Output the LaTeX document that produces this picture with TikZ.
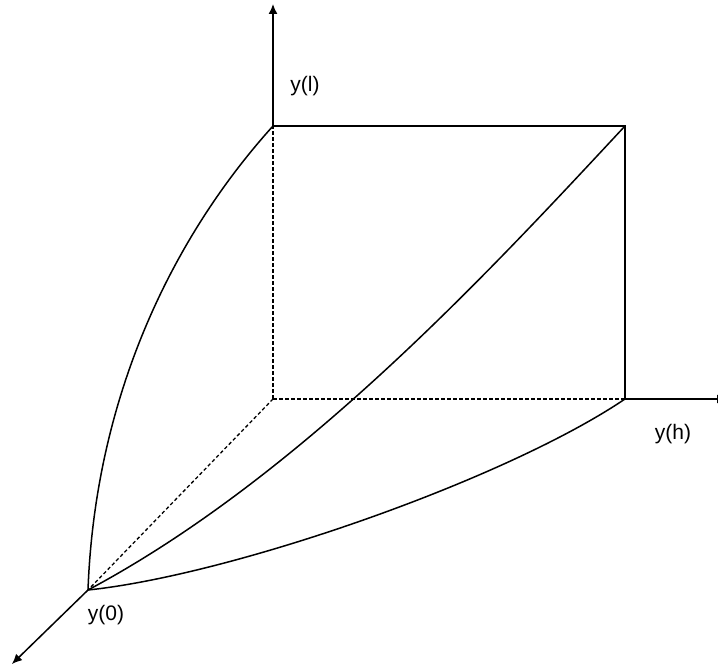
\documentclass[tikz,border=0pt]{standalone}
\usepackage{fontspec}
\setmainfont{Liberation Sans}
\usetikzlibrary{arrows.meta}

\tikzset{
  axis/.style={line width=1.5pt, -{Latex[length=10pt,width=9pt]}},
  hidden/.style={line width=1.3pt, dash pattern=on 3.5pt off 2.5pt},
  edge/.style={line width=1.5pt},
  lbl/.style={inner sep=0.75pt, font=\fontsize{21}{25}\selectfont},
}

\begin{document}
\begin{tikzpicture}[x=1pt,y=1pt,yscale=-1,xscale=1]
\useasboundingbox (0,0) rectangle (718,668);

% corners of the box
\coordinate (O) at (273,399);
\coordinate (L) at (273,126);
\coordinate (Q) at (625,126);
\coordinate (H) at (625,399);
\coordinate (Y0) at (88,590);
% axis tips
\coordinate (Ltip) at (273,4);
\coordinate (Htip) at (727,399);
\coordinate (Ytip) at (12,664);

%Dashed Lines
\draw [hidden] (O) -- (L);
\draw [hidden] (O) -- (H);
\draw [hidden] (O) -- (Y0);

%Straight Lines
\draw [axis] (L) -- (Ltip);
\draw [axis] (H) -- (Htip);
\draw [axis] (Y0) -- (Ytip);
\draw [edge] (L) -- (Q) -- (H);

%Curve Lines
\draw [edge] (Y0) .. controls +(7,-190) and +(-103,114) .. (L);
%Curve Lines
\draw [edge] (Y0) .. controls +(212,-113) and +(-136,146) .. (Q);
%Curve Lines
\draw [edge] (Y0) .. controls +(144,-15) and +(-120,81) .. (H);

% Text Node
\node [lbl] (lbl-l) at (305,86) {y(l)};
% Text Node
\node [lbl] (lbl-h) at (673,434) {y(h)};
% Text Node
\node [lbl] (lbl-0) at (106,615) {y(0)};
\end{tikzpicture}
\end{document}
